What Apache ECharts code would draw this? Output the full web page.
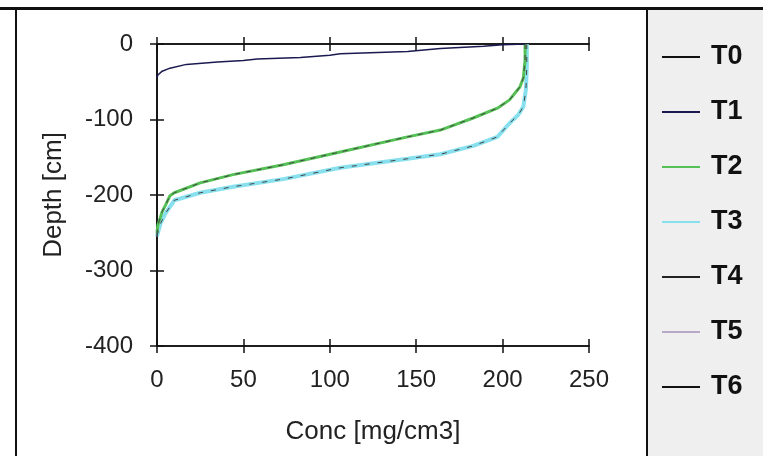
<!DOCTYPE html>
<html>
<head>
<meta charset="utf-8">
<script src="https://cdn.jsdelivr.net/npm/echarts@6/dist/echarts.min.js"></script>
<style>html,body{margin:0;padding:0;background:#fff}#c{width:763px;height:456px}</style>
</head>
<body>
<div id="c"></div>
<script>
const seriesNames = ['T0','T1','T2','T3','T4','T5','T6'];
const xTicks = [0, 50, 100, 150, 200, 250];
const yTicks = [0, -100, -200, -300, -400];

const t0Conc  = [0, 0];
const t0Depth = [0, -400];

const t1Conc  = [0, 0.5, 3, 7.5, 17, 35, 50, 58, 83, 100, 106, 145, 164, 189, 200, 213];
const t1Depth = [-45, -41, -36, -32, -27, -24, -22, -20, -18, -15, -13, -10, -6, -3, -1, 0];

const t2Conc  = [213, 213, 212, 210, 204, 197, 183, 164, 145, 106, 73, 44, 25, 10, 7.5, 5, 3, 0.5, 0];
const t2Depth = [0, -21, -45, -57, -74, -85, -98, -114, -123, -143, -160, -173, -184, -197, -201, -213, -222, -240, -250];

const t3Conc  = [214, 214, 213.5, 212, 209, 204, 197, 183, 164, 145, 106, 73, 44, 25, 10, 5, 2, 0.5, 0];
const t3Depth = [0, -30, -60, -83, -94, -105, -123, -135, -146, -152, -164, -179, -189, -197, -207, -224, -238, -250, -255];

const t4Conc  = t2Conc;
const t4Depth = t2Depth;
const t5Conc  = t3Conc;
const t5Depth = t3Depth;
const t6Conc  = t3Conc;
const t6Depth = t3Depth;

const pairs = (xs, ys) => xs.map((x, i) => [x, ys[i]]);

const chart = echarts.init(document.getElementById('c'), null, {renderer: 'canvas'});
const gridPos = {left: 157, right: 174, top: 44, bottom: 110};
const FF = 'Liberation Sans, Arial, sans-serif';
const lblFont = {fontFamily: FF, fontSize: 24, color: '#222'};
const tickStyle = {color: '#111', width: 1.5};

const baseX = {
  type: 'value', min: 0, max: 250, interval: 50,
  splitLine: {show: false},
  axisLine: {show: true, onZero: false, lineStyle: {color: '#111', width: 1.5}},
  axisTick: {show: true, length: 7, lineStyle: tickStyle}
};
const baseY = {
  type: 'value', min: -400, max: 0, interval: 100,
  splitLine: {show: false},
  axisLine: {show: true, onZero: false, lineStyle: {color: '#111', width: 1.5}},
  axisTick: {show: true, length: 7, lineStyle: tickStyle}
};
const inTick = {show: true, inside: true, length: 7, lineStyle: tickStyle};

const lineSeries = (name, data, color, width, z, type) => ({
  name, type: 'line', data, xAxisIndex: 0, yAxisIndex: 0,
  showSymbol: false, symbol: 'none', smooth: false, z,
  lineStyle: {color, width, type: type || 'solid'},
  itemStyle: {color}
});

const legendColors = ['#111111', '#1a1a50', '#55c055', '#88e0ee', '#222222', '#b8a8c8', '#111111'];

chart.setOption({
  backgroundColor: '#ffffff',
  animation: false,
  grid: gridPos,
  legend: {
    show: true, orient: 'vertical', left: 657, top: 37, itemGap: 25,
    itemWidth: 38, itemHeight: 2, icon: 'rect',
    textStyle: {fontFamily: FF, fontSize: 27, fontWeight: 'bold', color: '#111', lineHeight: 30, padding: [0, 0, 0, 6]},
    data: seriesNames.map((n, i) => ({name: n, itemStyle: {color: legendColors[i]}}))
  },
  xAxis: [
    Object.assign({}, baseX, {position: 'bottom',
      axisLabel: Object.assign({margin: 22}, lblFont),
      name: 'Conc [mg/cm3]', nameLocation: 'middle', nameGap: 73,
      nameTextStyle: Object.assign({}, lblFont, {fontSize: 26})}),
    Object.assign({}, baseX, {position: 'bottom', axisLabel: {show: false}, axisTick: inTick}),
    Object.assign({}, baseX, {position: 'top', axisLabel: {show: false}}),
    Object.assign({}, baseX, {position: 'top', axisLabel: {show: false}, axisTick: inTick})
  ],
  yAxis: [
    Object.assign({}, baseY, {position: 'left',
      axisLabel: Object.assign({margin: 24}, lblFont),
      name: 'Depth [cm]', nameLocation: 'middle', nameGap: 90, nameRotate: 90,
      nameTextStyle: Object.assign({}, lblFont, {fontSize: 26})}),
    Object.assign({}, baseY, {position: 'left', axisLabel: {show: false}, axisTick: inTick})
  ],
  series: [
    lineSeries('T0', pairs(t0Conc, t0Depth), legendColors[0], 1, 2),
    lineSeries('T1', pairs(t1Conc, t1Depth), legendColors[1], 1.5, 3),
    lineSeries('T2', pairs(t2Conc, t2Depth), legendColors[2], 3, 2),
    lineSeries('T3', pairs(t3Conc, t3Depth), legendColors[3], 4, 1),
    lineSeries('T4', pairs(t4Conc, t4Depth), '#444444', 1, 4, [5, 6]),
    lineSeries('T5', pairs(t5Conc, t5Depth), legendColors[5], 1, 0),
    lineSeries('T6', pairs(t6Conc, t6Depth), '#444444', 1, 4, [5, 8])
  ],
  graphic: [
    {type: 'rect', shape: {x: 648, y: 9, width: 115, height: 447}, style: {fill: '#efefef'}, z: -10, silent: true},
    {type: 'line', shape: {x1: 0, y1: 8.5, x2: 763, y2: 8.5}, style: {stroke: '#111', lineWidth: 3}, z: 10},
    {type: 'line', shape: {x1: 16, y1: 8, x2: 16, y2: 456}, style: {stroke: '#111', lineWidth: 2}, z: 10},
    {type: 'line', shape: {x1: 647, y1: 8, x2: 647, y2: 456}, style: {stroke: '#111', lineWidth: 2}, z: 10}
  ]
});
</script>
</body>
</html>
